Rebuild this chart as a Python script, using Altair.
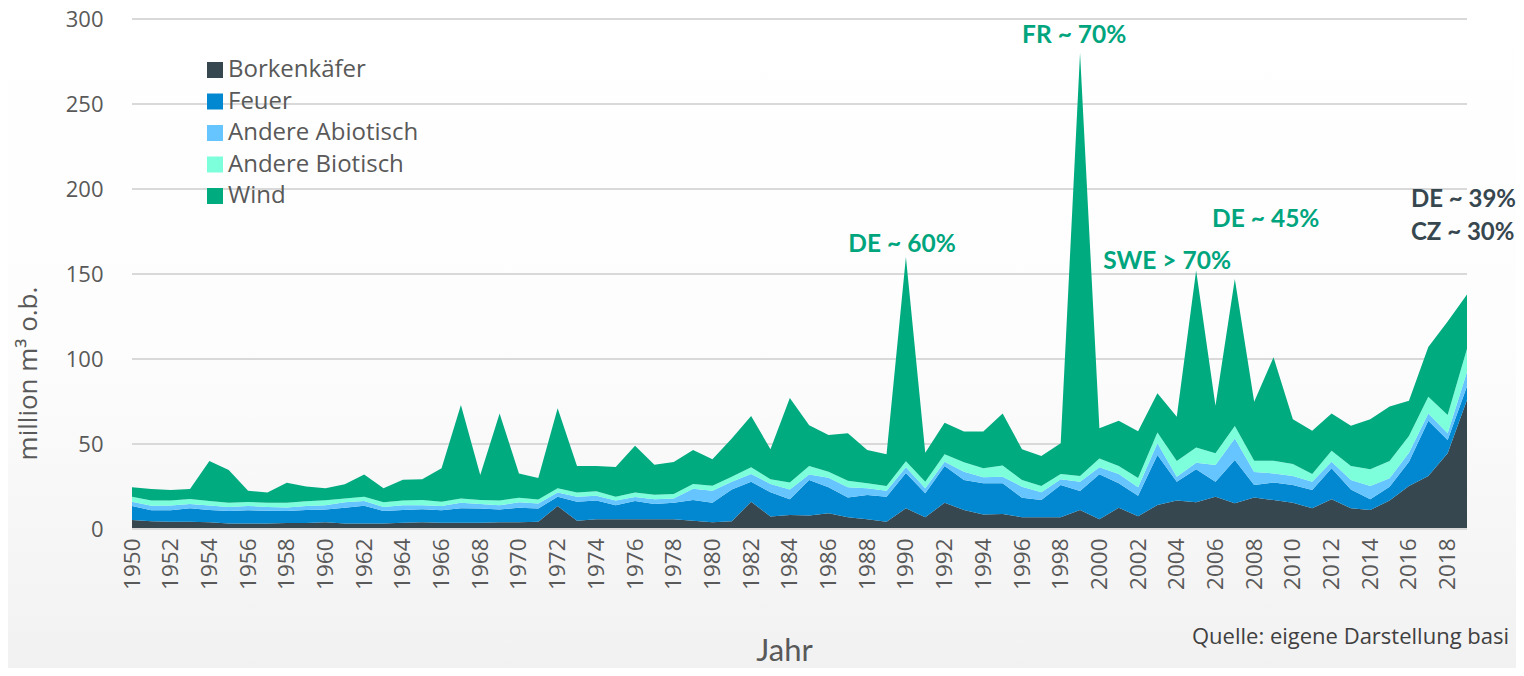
import altair as alt
import pandas as pd

years = list(range(1950, 2020))

borkenkaefer = [5.3, 4.5, 4.3, 4.3, 4.0, 3.3, 3.3, 3.3, 3.5, 3.5,
                3.9, 3.3, 3.3, 3.3, 3.7, 4.0, 3.7, 3.7, 3.7, 3.9,
                3.9, 4.3, 13.5, 4.9, 5.7, 5.7, 5.7, 5.7, 5.7, 4.9,
                4.0, 4.5, 16.1, 7.3, 8.2, 8.0, 9.2, 6.9, 5.7, 4.3,
                12.2, 6.9, 15.5, 11.2, 8.6, 8.8, 6.9, 6.9, 6.9, 11.2,
                5.7, 12.5, 7.5, 14.1, 16.7, 15.7, 19.0, 15.1, 18.6, 17.0,
                15.5, 12.2, 17.5, 12.2, 11.2, 16.7, 25.3, 31.2, 44.5, 76.0]
feuer = [8.2, 6.5, 6.7, 7.9, 7.2, 7.3, 7.7, 7.5, 7.1, 7.7,
         7.5, 9.2, 10.4, 7.3, 7.5, 7.6, 7.3, 8.5, 8.3, 7.5,
         8.6, 7.7, 5.5, 11.2, 11.0, 8.3, 10.8, 9.0, 9.8, 12.1,
         11.5, 18.8, 11.7, 14.3, 9.3, 20.8, 15.3, 11.7, 14.3, 14.7,
         20.8, 14.1, 21.5, 17.6, 18.3, 18.1, 11.5, 10.1, 19.0, 11.2,
         26.5, 14.4, 12.0, 29.4, 11.1, 19.4, 8.8, 25.5, 7.3, 10.3,
         10.4, 10.7, 18.2, 11.1, 6.3, 8.2, 14.3, 32.5, 7.9, 8.0]
andere_abiotisch = [2.5, 2.7, 2.8, 2.5, 2.6, 2.4, 2.6, 2.2, 2.1, 2.4,
                    2.6, 3.2, 2.8, 2.4, 2.8, 2.4, 2.5, 3.3, 2.7, 2.6,
                    3.2, 3.0, 2.4, 2.9, 2.9, 2.7, 2.3, 2.8, 2.5, 6.7,
                    7.0, 4.5, 4.6, 4.9, 5.8, 3.2, 5.7, 5.9, 4.0, 3.5,
                    3.3, 3.0, 2.6, 4.9, 3.5, 3.9, 6.5, 4.6, 3.3, 5.4,
                    4.1, 5.5, 5.1, 6.9, 3.0, 3.9, 9.8, 12.7, 7.6, 5.4,
                    5.3, 4.9, 3.9, 5.5, 7.8, 4.9, 5.3, 4.3, 3.9, 8.5]
andere_biotisch = [3.0, 3.0, 2.9, 2.9, 2.7, 2.5, 2.3, 2.5, 2.8, 2.7,
                   2.9, 2.3, 2.5, 2.7, 2.7, 3.0, 2.5, 2.5, 2.3, 2.7,
                   2.7, 2.3, 2.6, 2.4, 2.6, 2.3, 2.6, 2.7, 2.6, 2.8,
                   3.0, 3.0, 3.9, 2.7, 4.0, 5.0, 3.5, 3.9, 2.9, 2.8,
                   3.5, 3.8, 4.4, 5.5, 5.3, 6.6, 3.9, 3.7, 3.2, 3.4,
                   5.1, 4.6, 5.4, 6.3, 9.2, 9.0, 6.9, 7.3, 6.7, 7.5,
                   7.0, 4.6, 6.4, 8.2, 9.8, 10.2, 9.8, 9.8, 10.7, 13.5]
wind = [5.5, 6.8, 6.3, 5.9, 23.5, 19.2, 6.6, 5.9, 11.7, 8.7,
        7.1, 8.3, 13.0, 8.3, 12.3, 12.2, 19.7, 55.0, 14.8, 51.3,
        14.3, 12.7, 47.0, 15.6, 14.8, 17.5, 27.6, 17.6, 18.8, 20.0,
        15.5, 22.5, 30.2, 17.7, 49.7, 24.0, 21.6, 27.9, 19.6, 18.7,
        120.2, 17.0, 18.5, 18.1, 21.6, 30.6, 18.1, 17.7, 18.0, 248.8,
        17.8, 26.7, 27.5, 23.1, 26.0, 104.0, 28.0, 86.4, 34.7, 60.8,
        26.3, 25.4, 22.0, 23.8, 29.4, 32.0, 20.8, 29.2, 55.0, 32.0]

series_names = ["Borkenkäfer", "Feuer", "Andere Abiotisch", "Andere Biotisch", "Wind"]
series_colors = ["#37474F", "#0288D1", "#66C5FF", "#7CFFDA", "#00AB80"]
series_values = [borkenkaefer, feuer, andere_abiotisch, andere_biotisch, wind]

x_tick_years = list(range(1950, 2019, 2))
y_ticks = [0, 50, 100, 150, 200, 250, 300]

ann_green_text = ["DE ~ 60%", "FR ~ 70%", "SWE > 70%", "DE ~ 45%"]
ann_green_year = [1989.8, 1998.7, 2003.5, 2008.6]
ann_green_value = [167, 290, 157, 182]
ann_dark_text = ["DE ~ 39%", "CZ ~ 30%"]
ann_dark_year = [2016.1, 2016.1]
ann_dark_value = [193.5, 174]

source_text = "Quelle: eigene Darstellung basi"

FONT = "Open Sans"
BOLD_FONT = "Lato"
GREY = "#595959"
W, H = 1335, 510

rows = []
for i, (name, vals) in enumerate(zip(series_names, series_values)):
    for yr, v in zip(years, vals):
        rows.append({"Jahr": yr, "Wert": v, "Kategorie": name, "idx": i})
df = pd.DataFrame(rows)

xscale = alt.Scale(domain=[1950, 2019], nice=False, zero=False)
yscale = alt.Scale(domain=[0, 300], nice=False)

x_axis = alt.Axis(values=x_tick_years, format="d", labelAngle=270,
                  labelAlign="right", labelBaseline="middle",
                  labelFontSize=22.5, labelColor=GREY, labelFont=FONT,
                  labelPadding=9, labelOverlap=False, labelBound=False,
                  ticks=False, domain=False, grid=False, zindex=1,
                  title="Jahr", titleFontSize=31, titleFont=BOLD_FONT,
                  titleFontWeight="normal", titleColor=GREY,
                  titleX=652, titleY=131, titleAlign="center",
                  titleBaseline="alphabetic")
y_axis = alt.Axis(values=y_ticks, labelFontSize=22, labelColor=GREY,
                  labelFont=FONT, labelPadding=29, ticks=False,
                  domain=False, grid=False, zindex=1,
                  title="million m³ o.b.", titleFontSize=26,
                  titleFont=FONT, titleFontWeight="normal",
                  titleColor=GREY, titleAngle=270, titleX=-104,
                  titleY=354, titleAlign="center",
                  titleBaseline="middle")

bg = alt.Chart(pd.DataFrame({"a": [0]})).mark_rect(
    clip=False,
    color=alt.Gradient(gradient="linear",
                       stops=[alt.GradientStop(color="#ffffff", offset=0),
                              alt.GradientStop(color="#fdfdfd", offset=0.5),
                              alt.GradientStop(color="#f1f1f1", offset=1)],
                       x1=0, x2=0, y1=0, y2=1)
).encode(x=alt.value(-124), x2=alt.value(W + 60), y=alt.value(-11), y2=alt.value(H + 150))

grid = alt.Chart(pd.DataFrame({"g": y_ticks})).mark_rule(
    color="#d9d9d9", strokeWidth=2
).encode(y=alt.Y("g:Q", scale=yscale, axis=y_axis), x=alt.value(0), x2=alt.value(W))

baseline = alt.Chart(pd.DataFrame({"g": [0]})).mark_rule(
    color="#d9d9d9", strokeWidth=2
).encode(y=alt.Y("g:Q", scale=yscale, axis=y_axis), x=alt.value(0), x2=alt.value(W))

area = alt.Chart(df).mark_area(opacity=1, interpolate="linear").encode(
    x=alt.X("Jahr:Q", scale=xscale, axis=x_axis),
    y=alt.Y("Wert:Q", stack="zero", scale=yscale, axis=y_axis),
    color=alt.Color("Kategorie:N",
                    scale=alt.Scale(domain=series_names, range=series_colors),
                    legend=alt.Legend(title=None, orient="none", legendX=71,
                                      legendY=39, symbolType="square",
                                      symbolSize=256, symbolStrokeWidth=0,
                                      symbolOpacity=1, labelFontSize=24,
                                      labelFont=FONT, labelColor=GREY,
                                      labelOffset=1, rowPadding=7.5,
                                      labelLimit=400, padding=0, zindex=2)),
    order=alt.Order("idx:Q", sort="ascending"),
)

ann_g = alt.Chart(pd.DataFrame({"t": ann_green_text, "x": ann_green_year,
                                "y": ann_green_value})).mark_text(
    font=BOLD_FONT, fontSize=24.5, fontWeight="bold", color="#00A57E",
    align="center", baseline="middle"
).encode(x=alt.X("x:Q", scale=xscale, axis=x_axis),
         y=alt.Y("y:Q", scale=yscale, axis=y_axis), text="t:N")

ann_d = alt.Chart(pd.DataFrame({"t": ann_dark_text, "x": ann_dark_year,
                                "y": ann_dark_value})).mark_text(
    font=BOLD_FONT, fontSize=24, fontWeight="bold", color="#37474F",
    align="left", baseline="middle"
).encode(x=alt.X("x:Q", scale=xscale, axis=x_axis),
         y=alt.Y("y:Q", scale=yscale, axis=y_axis), text="t:N")

src = alt.Chart(pd.DataFrame({"t": [source_text]})).mark_text(
    font=FONT, fontSize=22, color="#404040", align="left", baseline="middle",
    clip=False
).encode(x=alt.value(1060), y=alt.value(618), text="t:N")

chart = alt.layer(bg, grid, area, baseline, ann_g, ann_d, src).properties(
    width=W, height=H,
    autosize=alt.AutoSizeParams(type="none"),
    padding={"left": 124, "top": 11, "right": 49, "bottom": 139},
    background="#ffffff",
).configure_view(stroke=None)

chart.save("out.html", embed_options={"renderer": "svg", "actions": False})
